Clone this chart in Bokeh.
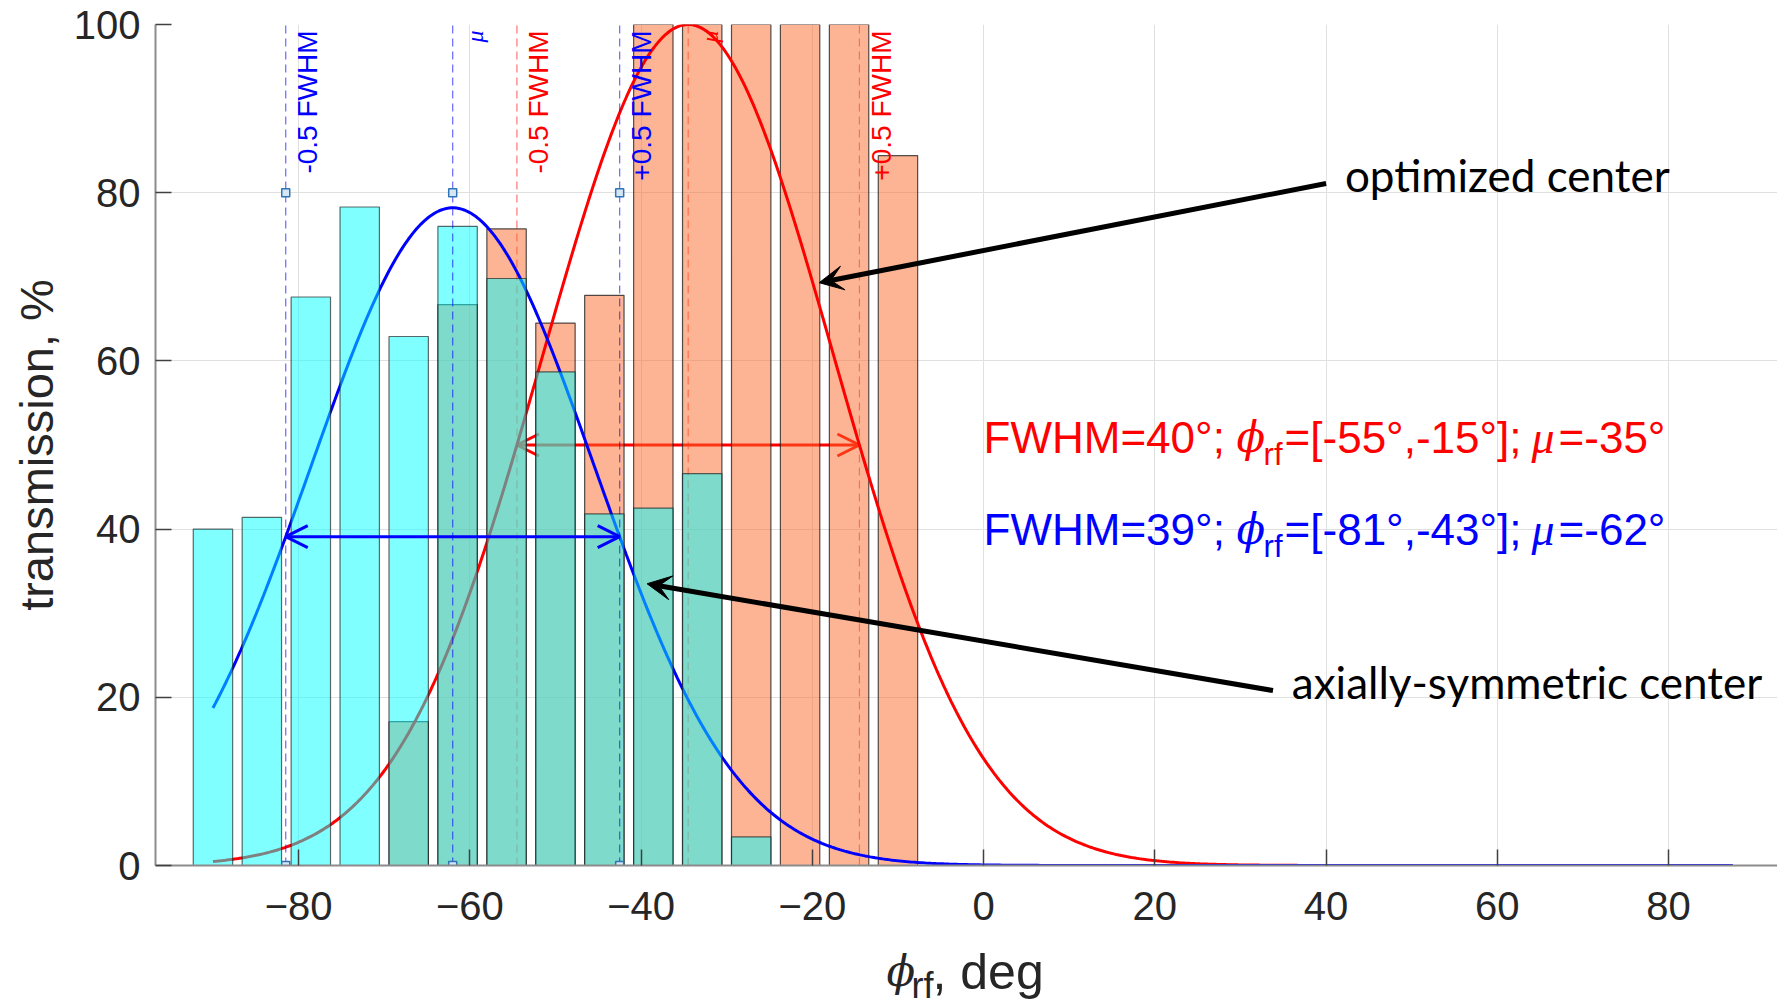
import numpy as np
from math import pi
from bokeh.plotting import figure
from bokeh.layouts import row, column
from bokeh.models import Label, Arrow, OpenHead, VeeHead, Range1d, FixedTicker
from bokeh.embed import file_html
from bokeh.resources import INLINE

# ---------------- data ----------------
phase_deg = [-90.0, -84.29, -78.57, -72.86, -67.14, -61.43, -55.71, -50.0,
             -44.29, -38.57, -32.86, -27.14, -21.43, -15.71, -10.0]
axial_tr = [40.0, 41.4, 67.6, 78.3, 62.9, 76.0, 69.8, 58.7,
            41.8, 42.5, 46.6, 3.4, 0.0, 0.0, 0.0]
optimized_tr = [0.0, 0.0, 0.0, 0.0, 17.1, 66.7, 75.7, 64.5,
                67.8, 100.0, 100.0, 100.0, 100.0, 100.0, 84.4]

# Gaussian fits (amplitude, centre, FWHM)
opt_amp, opt_mu, opt_fwhm = 100.0, -34.5, 40.0
axi_amp, axi_mu, axi_fwhm = 78.2, -62.0, 39.0
fit_x_start, fit_x_end = -90.0, 87.5

x_ticks = [-80, -60, -40, -20, 0, 20, 40, 60, 80]
y_ticks = [0, 20, 40, 60, 80, 100]

red_text = ["FWHM=40°; ", "ϕ", "rf", "=[-55°,-15°]; ", "μ", "=-35°"]
blue_text = ["FWHM=39°; ", "ϕ", "rf", "=[-81°,-43°]; ", "μ", "=-62°"]


def gauss(x, amp, mu, fwhm):
    s = fwhm / (2.0 * np.sqrt(2.0 * np.log(2.0)))
    return amp * np.exp(-(x - mu) ** 2 / (2 * s * s))


fx = np.linspace(fit_x_start, fit_x_end, 600)
opt_curve = gauss(fx, opt_amp, opt_mu, opt_fwhm)
axi_curve = gauss(fx, axi_amp, axi_mu, axi_fwhm)
opt_lines = [opt_mu - opt_fwhm / 2, opt_mu, opt_mu + opt_fwhm / 2]
axi_lines = [axi_mu - axi_fwhm / 2, axi_mu, axi_mu + axi_fwhm / 2]

BASE_FIX = 15  # px lift for alphabetic-baseline labels

# ---------------- layout sizes ----------------
W, H = 1777, 1006
LEFT_W = 62          # strip holding the y title
MAIN_H = 940         # main plot height
BOTTOM_H = H - MAIN_H

# ---------------- main figure ----------------
p = figure(width=W - LEFT_W, height=MAIN_H,
           x_range=Range1d(-96.71, 92.72), y_range=Range1d(0, 100),
           output_backend="svg", toolbar_location=None,
           min_border_left=93, min_border_right=0,
           min_border_top=24, min_border_bottom=75)
p.outline_line_color = None
p.background_fill_color = "white"

p.xaxis.ticker = FixedTicker(ticks=x_ticks)
p.yaxis.ticker = FixedTicker(ticks=y_ticks)
p.xaxis.major_label_overrides = {t: ("\u2212" + str(abs(t)) if t < 0 else str(t)) for t in x_ticks}
p.grid.grid_line_color = "#e0e0e0"
p.grid.grid_line_width = 1
p.axis.minor_tick_line_color = None
p.axis.major_tick_in = 16
p.axis.major_tick_out = 0
p.axis.major_tick_line_color = "#404040"
p.axis.major_tick_line_width = 1.5
p.axis.axis_line_color = "#8c8c8c"
p.axis.axis_line_width = 2
p.axis.major_label_text_font = "Liberation Sans"
p.axis.major_label_text_font_size = "40px"
p.axis.major_label_text_color = "#262626"
p.xaxis.major_label_standoff = 26
p.yaxis.major_label_standoff = 15

# red dashed guide lines (under the bars)
p.segment(x0=opt_lines, y0=[0] * 3, x1=opt_lines, y1=[100] * 3,
          line_color="red", line_alpha=0.55, line_width=1.2, line_dash="8 5")

# red FWHM arrow (under the bars)
p.add_layout(Arrow(x_start=opt_lines[0], y_start=opt_amp / 2, x_end=opt_lines[2], y_end=opt_amp / 2,
                   start=OpenHead(size=22, line_color="red", line_width=3),
                   end=OpenHead(size=22, line_color="red", line_width=3),
                   line_color="red", line_width=3, level="underlay"))

bar_w = 4.6
p.vbar(x=phase_deg, top=optimized_tr, width=bar_w, bottom=0,
       fill_color="#F96929", fill_alpha=0.5, line_color="#1a1a1a", line_alpha=0.75, line_width=1.2)
p.line(fx, opt_curve, line_color="red", line_width=3)
p.line(fx, axi_curve, line_color="blue", line_width=3)
p.vbar(x=phase_deg, top=axial_tr, width=bar_w, bottom=0,
       fill_color="#00FFFF", fill_alpha=0.5, line_color="#1a1a1a", line_alpha=0.65, line_width=1.2)

# blue dashed guide lines + markers
p.segment(x0=axi_lines, y0=[0] * 3, x1=axi_lines, y1=[100] * 3,
          line_color="blue", line_alpha=0.6, line_width=1.2, line_dash="8 5")
p.scatter(x=axi_lines * 2, y=[80] * 3 + [0] * 3, marker="square", size=8,
          line_color="#2e75b6", fill_color="#d6e6f5", line_width=1.5)

p.add_layout(Arrow(x_start=axi_lines[0], y_start=axi_amp / 2, x_end=axi_lines[2], y_end=axi_amp / 2,
                   start=OpenHead(size=22, line_color="blue", line_width=3),
                   end=OpenHead(size=22, line_color="blue", line_width=3),
                   line_color="blue", line_width=3))

# black annotation arrows
p.add_layout(Arrow(x_start=40.0, y_start=81.1, x_end=-19.2, y_end=69.3,
                   end=VeeHead(size=24, fill_color="black", line_color="black"),
                   line_color="black", line_width=5))
p.add_layout(Arrow(x_start=33.8, y_start=20.8, x_end=-39.3, y_end=33.5,
                   end=VeeHead(size=24, fill_color="black", line_color="black"),
                   line_color="black", line_width=5))

p.add_layout(Label(x=42.2, y=80.3, y_offset=BASE_FIX, text="optimized center", text_font="Lato",
                   text_font_size="44px", text_color="black", text_baseline="alphabetic"))
p.add_layout(Label(x=36.0, y=20.0, y_offset=BASE_FIX, text="axially-symmetric center", text_font="Lato",
                   text_font_size="44px", text_color="black", text_baseline="alphabetic"))


def vlabel(x, text, color, font="Liberation Sans", size="28px", style="normal"):
    p.add_layout(Label(x=x, y=100, x_offset=22, y_offset=-6, text=text, angle=pi / 2,
                       text_align="right", text_baseline="middle", text_font=font,
                       text_font_size=size, text_font_style=style, text_color=color))


vlabel(axi_lines[0], "-0.5 FWHM", "blue")
vlabel(axi_lines[1], "μ", "blue", font="Liberation Serif", size="24px", style="italic")
vlabel(axi_lines[2], "+0.5 FWHM", "blue")
vlabel(opt_lines[0], "-0.5 FWHM", "red")
vlabel(opt_lines[1], "μ", "red", font="Liberation Serif", size="24px", style="italic")
vlabel(opt_lines[2], "+0.5 FWHM", "red")

# FWHM text lines
piece_dx = [0, 253, 280, 301, 548, 575]
piece_dy = [0, 0, 17, 0, 0, 0]
piece_font = ["Liberation Sans", "DejaVu Serif", "Liberation Sans", "Liberation Sans",
              "Liberation Serif", "Liberation Sans"]
piece_size = ["44px", "42px", "31px", "44px", "46px", "44px"]
piece_style = ["normal", "italic", "normal", "normal", "italic", "normal"]


def fwhm_line(y, parts, color):
    for t, dx, dy, f, s, st in zip(parts, piece_dx, piece_dy, piece_font, piece_size, piece_style):
        p.add_layout(Label(x=0, y=y, x_offset=dx, y_offset=BASE_FIX - dy, text=t, text_font=f,
                           text_font_size=s, text_font_style=st, text_color=color,
                           text_baseline="alphabetic"))


fwhm_line(49.1, red_text, "red")
fwhm_line(38.2, blue_text, "blue")

# ---------------- y title strip ----------------
py = figure(width=LEFT_W, height=MAIN_H, x_range=Range1d(0, LEFT_W), y_range=Range1d(0, MAIN_H),
            output_backend="svg", toolbar_location=None, min_border=0,
            x_axis_location=None, y_axis_location=None)
py.grid.visible = False
py.outline_line_color = None
py.add_layout(Label(x=36, y=MAIN_H - 470, text="transmission, %", angle=pi / 2,
                    text_align="center", text_baseline="middle", text_font="Liberation Sans",
                    text_font_size="47px", text_color="#262626"))

# ---------------- x title strip ----------------
px = figure(width=W, height=BOTTOM_H, x_range=Range1d(0, W), y_range=Range1d(0, BOTTOM_H),
            output_backend="svg", toolbar_location=None, min_border=0,
            x_axis_location=None, y_axis_location=None)
px.grid.visible = False
px.outline_line_color = None
xbase = H - 986
px.add_layout(Label(x=886, y=xbase, y_offset=BASE_FIX, text="ϕ", text_font="DejaVu Serif",
                    text_font_style="italic", text_font_size="42px", text_color="#262626",
                    text_baseline="alphabetic"))
px.add_layout(Label(x=911, y=xbase, y_offset=BASE_FIX - 14, text="rf", text_font="Liberation Sans",
                    text_font_size="36px", text_color="#262626", text_baseline="alphabetic"))
px.add_layout(Label(x=932, y=xbase, y_offset=BASE_FIX, text=", deg", text_font="Liberation Sans",
                    text_font_size="50px", text_color="#262626", text_baseline="alphabetic"))

layout = column(row(py, p), px)
open("out.html", "w").write(file_html(layout, INLINE))
